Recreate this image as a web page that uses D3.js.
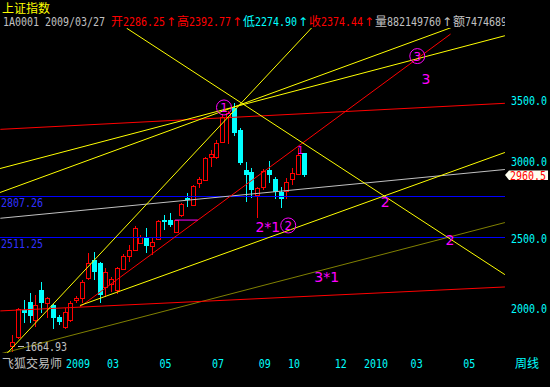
<!DOCTYPE html>
<html><head><meta charset="utf-8">
<script src="https://cdn.jsdelivr.net/npm/d3@7"></script>
<style>
html,body{margin:0;padding:0;background:#000;}
svg{display:block;}
</style></head><body>
<svg id="c" width="550" height="387"></svg>
<script>
// ---------- data (weekly candles, slot index 0..50) ----------
const open  = [1727,1790,1990,2047,1914,2131,2038,2023,1934,1862,1914,2060,2071,2216,2346,2324,2155,2174,2131,2286.25,2376,2420,2472,2506,2449,2497,2640,2636,2552,2673,2794,2745,2901,2925,3091,3093,3202,3383,3443,3286,2997,2985,2817,2877,2997,2932,2841,2848,2930,2969,3118];
const high  = [1806,2000,2058,2110,2095,2186,2083,2030,1950,2000,2050,2085,2200,2400,2402,2330,2290,2225,2300,2392.77,2455,2590,2530,2579,2506,2640,2672,2689,2640,2760,2831,2890,2949,3090,3142,3215,3400,3420,3478,3300,3057,3010,2877,3005,3065,2946,2877,2937,3010,3154,3122];
const low   = [1683,1780,1895,1893,1866,1963,1929,1850,1880,1850,1900,2040,2037,2200,2200,2037,2080,2120,2100,2274.90,2335,2410,2460,2398,2384,2490,2564,2584,2540,2660,2730,2740,2865,2920,3019,3080,3190,3187,3240,3033,2769,2793,2649,2855,2904,2790,2721,2790,2889,2962,2949];
const close = [1759,1992,1965,1943,2023,2035,2074,1927,1902,1974,2035,2075,2191,2328,2263,2095,2263,2208,2288,2374.44,2419,2579,2514,2449,2480,2631,2625,2600,2636,2752,2780,2882,2930,3082,3113,3190,3382,3412,3262,3046,2961,2853,2865,2990,2961,2841,2786,2909,2978,3106,2960.5];

const tickSlots  = [9,16,25,34,42,47,55,60,68,77];
const tickLabels = ["2009","03","05","07","09","10","12","2010","03","05"];
const yTicks = [2000,2500,3000,3500];
const levelValues = [2807.26, 2511.25];
const lowValue = 1664.93;
const lastPrice = 2960.5;

const titleName = "上证指数";
const titleCode = "1A0001";
const titleDate = "2009/03/27";
const titleFields = ["开","高","低","收","量","额"];
const titleValues = ["2286.25","2392.77","2274.90","2374.44","882149760","7474689216"];

// drawn trend lines: [slot, price] endpoints
const redChannelLow  = [[-2,1980],[84.4,2153]];
const redChannelHigh = [[-2,3291],[84.4,3479]];
const redDiagonal    = [[11.6,2008],[75.1,3979]];
const greyLine       = [[-2,2649],[84.4,3001]];
const oliveLine      = [[-2,1670],[84.4,2618]];
const yellowSteep    = [[-1,1667],[53,4100]];
const yellowA        = [[-2.05,2835],[76,4038]];
const yellowB        = [[-2.05,3008],[84.4,3967]];
const yellowRise     = [[11.64,2019],[84.4,3124]];
const yellowDesc     = [[19.64,4021],[84.4,2242]];

// wave marks
const circleMarks = [[36.3,3449,"1"],[47.3,2597,"2"],[69.4,3820,"3"]];
const waveTexts   = [[70.9,3660,"3"],[63.9,2772,"2"],[75,2496,"2"],[43.8,2593,"2*1"],[53.9,2225,"3*1"]];

// ---------- scales ----------
const svg = d3.select("#c");
svg.append("rect").attr("width",550).attr("height",387).attr("fill","#000");
const x = d3.scaleLinear().domain([0,84]).range([12,12+84*5.84]);
const y = d3.scaleLinear().domain([2000,3500]).range([308.15,100.4]);

const MONO = "'DejaVu Sans Mono',monospace";
const CJK = "'Noto Sans CJK SC','DejaVu Sans',sans-serif";
function isWide(s){for(const ch of s) if(ch.charCodeAt(0)>255) return true; return false;}
function tw(s){let w=0;for(const ch of s) w += ch.charCodeAt(0)>255?12:6; return w;}
function tdx(g,xx,yy,s,color){
  const wide = isWide(s);
  if(wide){
    return g.append("text").attr("x",xx).attr("y",yy).text(s)
      .attr("fill",color).attr("font-family",CJK).attr("font-size",12);
  }
  return g.append("text").attr("transform",`translate(${xx},${yy}) scale(1,1.25)`).text(s)
    .attr("fill",color).attr("font-family",MONO).attr("font-size",10);
}

svg.append("clipPath").attr("id","plot").append("rect")
  .attr("x",0).attr("y",28).attr("width",505).attr("height",325);
svg.append("clipPath").attr("id","title").append("rect")
  .attr("x",0).attr("y",0).attr("width",505).attr("height",30);

const plot = svg.append("g").attr("clip-path","url(#plot)");

// ---------- candles ----------
const gC = plot.append("g").attr("shape-rendering","crispEdges");
open.forEach((o,i)=>{
  const c = close[i], cx = Math.round(x(i));
  const up = c >= o;
  const col = up ? "#FF0000" : "#00FFFF";
  const top = Math.round(y(Math.max(o,c))), bot = Math.round(y(Math.min(o,c)));
  const hy = Math.round(y(high[i])), ly = Math.round(y(low[i]));
  if(up){
    gC.append("line").attr("x1",cx+0.5).attr("x2",cx+0.5).attr("y1",hy).attr("y2",top).attr("stroke",col);
    gC.append("line").attr("x1",cx+0.5).attr("x2",cx+0.5).attr("y1",bot).attr("y2",ly).attr("stroke",col);
    gC.append("rect").attr("x",cx-1.5).attr("y",top+0.5).attr("width",4).attr("height",Math.max(bot-top,1))
      .attr("fill","#000").attr("stroke",col);
  } else {
    gC.append("line").attr("x1",cx+0.5).attr("x2",cx+0.5).attr("y1",hy).attr("y2",ly).attr("stroke",col);
    gC.append("rect").attr("x",cx-2).attr("y",top).attr("width",5).attr("height",Math.max(bot-top,1)).attr("fill",col);
  }
});

// ---------- lines ----------
const lineGen = d3.line().x(d=>x(d[0])).y(d=>y(d[1]));
function drawLine(pts,col){
  plot.append("path").attr("d",lineGen(pts)).attr("stroke",col).attr("stroke-width",1).attr("fill","none");
}
levelValues.forEach(v=>{
  plot.append("line").attr("x1",0).attr("x2",505).attr("y1",Math.round(y(v))+0.5).attr("y2",Math.round(y(v))+0.5)
    .attr("stroke","#0000FF").attr("shape-rendering","crispEdges");
});
drawLine(greyLine,"#C0C0C0");
drawLine(oliveLine,"#808000");
drawLine(redChannelLow,"#FF0000");
drawLine(redChannelHigh,"#FF0000");
drawLine(redDiagonal,"#FF0000");
drawLine(yellowSteep,"#FFFF00");
drawLine(yellowA,"#FFFF00");
drawLine(yellowB,"#FFFF00");
drawLine(yellowRise,"#FFFF00");
drawLine(yellowDesc,"#FFFF00");

// level labels
levelValues.forEach(v=>{
  tdx(plot,1,Math.round(y(v))+11,v.toFixed(2),"#3030FF");
});

// wave marks
circleMarks.forEach(d=>{
  plot.append("circle").attr("cx",x(d[0])).attr("cy",y(d[1])).attr("r",7.5)
    .attr("fill","none").attr("stroke","#FF00FF").attr("stroke-width",1);
  plot.append("text").attr("x",x(d[0])).attr("y",y(d[1])+4.5).text(d[2]).attr("text-anchor","middle")
    .attr("fill","#FF00FF").attr("font-family","DejaVu Sans").attr("font-size",12);
});
waveTexts.forEach(d=>{
  plot.append("text").attr("x",x(d[0])).attr("y",y(d[1])+5.5).text(d[2]).attr("text-anchor","middle")
    .attr("fill","#FF00FF").attr("font-family","DejaVu Sans").attr("font-size",14);
});
// small magenta marks
plot.append("text").attr("x",x(49)+2).attr("y",y(high[49])+6).text("1").attr("text-anchor","middle")
  .attr("fill","#FF00FF").attr("font-family","DejaVu Sans Mono").attr("font-size",10);
plot.append("line").attr("x1",x(27.9)).attr("x2",x(31.8)).attr("y1",y(2636)).attr("y2",y(2636))
  .attr("stroke","#FF00FF");

// low label
const lowRow = Math.round(y(1700)) - 4;
plot.append("line").attr("x1",x(0)+6).attr("x2",x(0)+12).attr("y1",lowRow+0.5).attr("y2",lowRow+0.5).attr("stroke","#C0C0C0");
tdx(plot,25,lowRow+5,lowValue.toFixed(2),"#C0C0C0");

// ---------- right axis ----------
yTicks.forEach(v=>{
  const off = v===3000 ? -8 : 0;
  tdx(svg,511,y(v)+4.5+off,v.toFixed(1),"#00FFFF");
});
// last price marker
const ly = y(lastPrice);
svg.append("path").attr("d",`M505,${ly} L509,${ly-4.5} L548,${ly-4.5} L548,${ly+5} L509,${ly+5} Z`).attr("fill","#FFFFF0");
tdx(svg,510,ly+4.5,lastPrice.toFixed(1),"#FF0000");

// ---------- bottom axis ----------
tdx(svg,2,368,"飞狐交易师","#C0C0C0");
tickSlots.forEach((s,i)=>{
  tdx(svg,x(s)+1.5,368,tickLabels[i],"#00FFFF");
});
tdx(svg,515,368,"周线","#00FFFF");

// ---------- title ----------
tdx(svg,2,13,titleName,"#FFFF00");
const tg = svg.append("g").attr("clip-path","url(#title)");
const segs = [[titleCode,"#C0C0C0",6],[titleDate,"#C0C0C0",6]];
const cols = ["#FF0000","#FF0000","#00FFFF","#FF0000","#C0C0C0","#C0C0C0"];
titleFields.forEach((f,i)=>{
  segs.push([f,cols[i],0]); segs.push([titleValues[i],cols[i],0]);
  if(i<titleFields.length-1) segs.push(["↑",cols[i],0]);
});
let tx = 3;
segs.forEach(s=>{
  if(s[0]==="↑"){
    tg.append("text").attr("x",tx+6).attr("y",26).text("↑").attr("text-anchor","middle")
      .attr("fill",s[1]).attr("font-family","DejaVu Sans").attr("font-size",12);
    tx += 12;
  } else {
    tdx(tg,tx,26,s[0],s[1]);
    tx += tw(s[0]) + s[2];
  }
});
</script>
</body></html>
